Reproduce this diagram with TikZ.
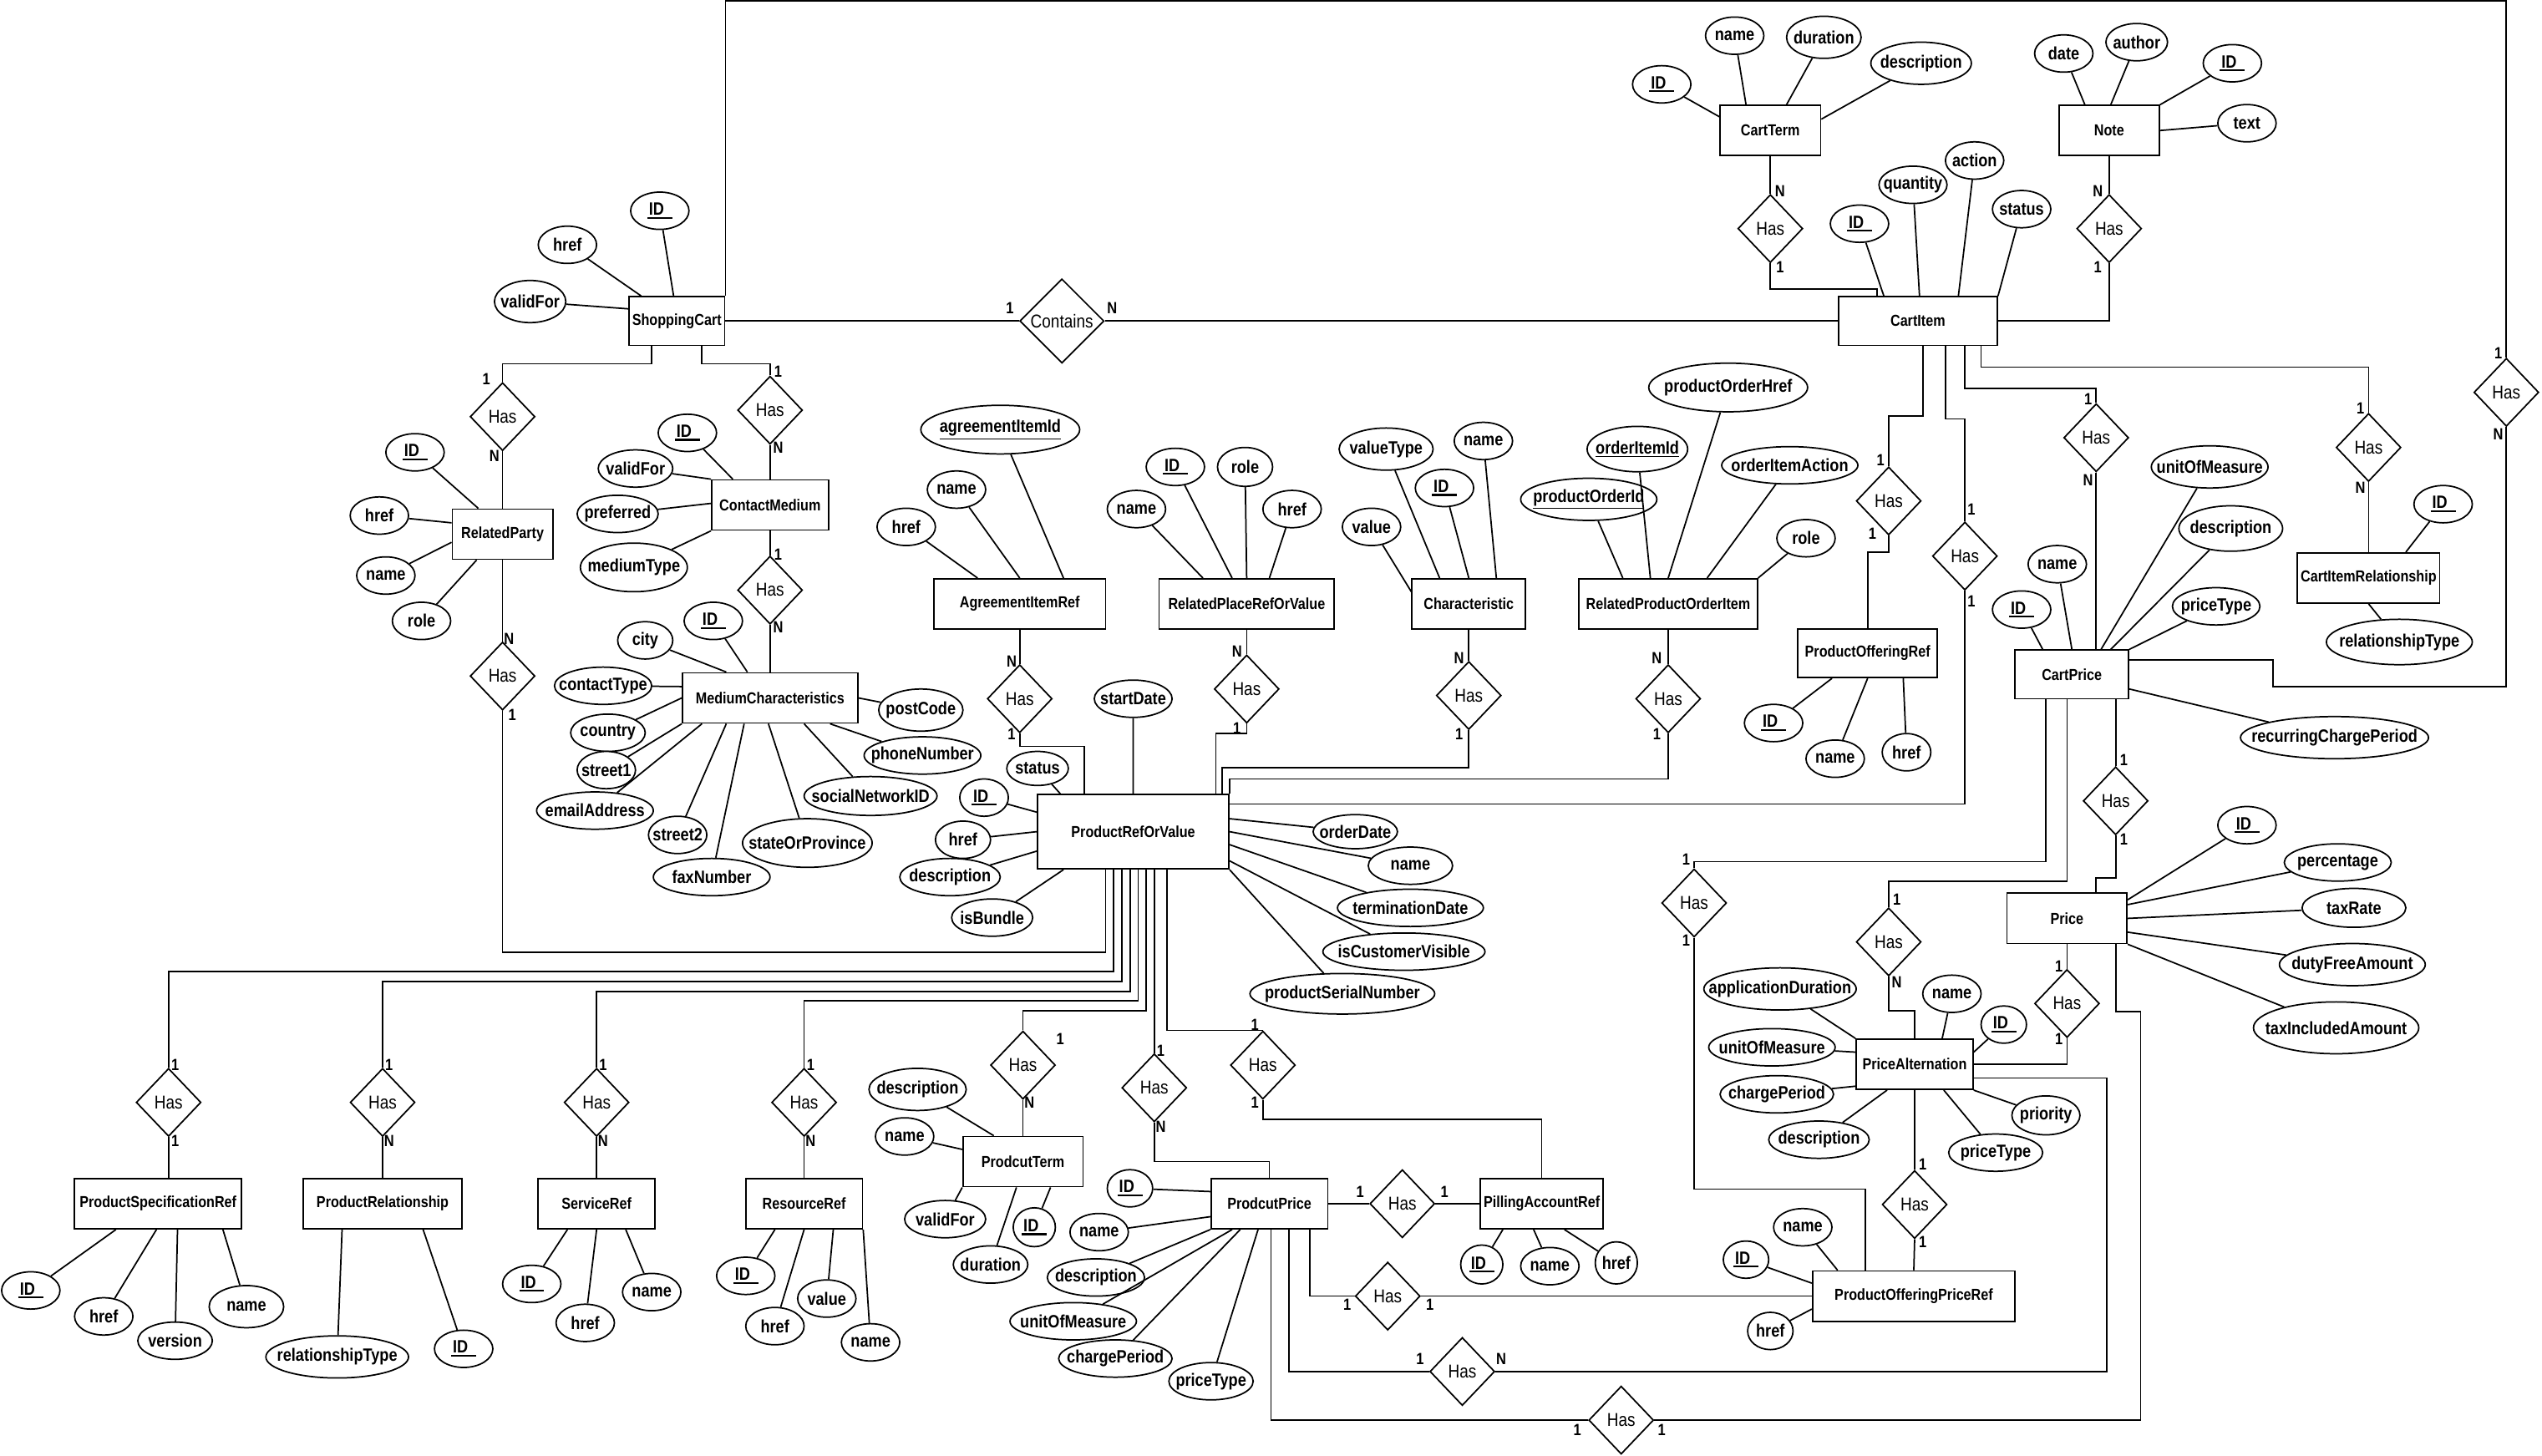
\documentclass[tikz,border=0pt]{standalone}
\usepackage{fontspec}
\setmainfont{Liberation Sans}[FakeStretch=0.85]
\usetikzlibrary{shapes.geometric}
\newcommand{\pkey}[1]{\vtop{\hbox{\hspace{1pt}#1\hspace{5pt}}\kern1pt\hrule height 1.1pt}}
\tikzset{
  entity/.style={
    rectangle, draw, fill=white, line width=0.9pt,
    minimum width=#1, minimum height=31, inner xsep=2pt,
    font=\fontsize{9.8}{11}\selectfont\bfseries
  },
  entity/.default=72,
  attr/.style={
    ellipse, draw, fill=white, line width=0.9pt,
    minimum width=#1, minimum height=23, inner sep=0pt,
    font=\fontsize{11}{13}\selectfont\bfseries,
    execute at begin node={\hbox to 0pt\bgroup\hss},
    execute at end node={\hss\egroup}
  },
  attr/.default=36,
  rel/.style={
    diamond, aspect=1, draw, fill=white, line width=0.9pt,
    minimum width=40, minimum height=42, inner sep=0pt,
    font=\fontsize{11.5}{13}\selectfont
  },
  card/.style={font=\fontsize{10}{12}\selectfont\bfseries, inner sep=0pt},
}

\begin{document}
\begin{tikzpicture}[x=1pt, y=1pt, line width=0.9pt]
  \useasboundingbox (0,0) rectangle (1568,-898);

  % entities
  \node[entity=59, minimum height=30] (sc) at (417.5,-198) {ShoppingCart};
  \node[entity=98, minimum height=30] (ci) at (1183,-198) {CartItem};
  \node[entity=62] (ct) at (1092,-80.5) {CartTerm};
  \node[entity=62] (note) at (1301,-80.5) {Note};
  \node[entity=62] (rp) at (310,-329.5) {RelatedParty};
  \node[entity=72] (cm) at (475,-311.5) {ContactMedium};
  \node[entity=108] (mc) at (475,-430.5) {MediumCharacteristics};
  \node[entity=106] (air) at (629,-372.5) {AgreementItemRef};
  \node[entity=108] (rpl) at (769,-372.5) {RelatedPlaceRefOrValue};
  \node[entity=70] (chr) at (906,-372.5) {Characteristic};
  \node[entity=110] (rpoi) at (1029,-372.5) {RelatedProductOrderItem};
  \node[entity=86, minimum height=30] (por) at (1152,-403) {ProductOfferingRef};
  \node[entity=70, minimum height=30] (cp) at (1278,-416) {CartPrice};
  \node[entity=87] (cir) at (1461,-356.5) {CartItemRelationship};
  \node[entity=74] (price) at (1275,-566.5) {Price};
  \node[entity=72] (pa) at (1181,-656.5) {PriceAlternation};
  \node[entity=125] (popr) at (1180.5,-799.5) {ProductOfferingPriceRef};
  \node[entity=118, minimum height=46] (prv) at (699,-513) {ProductRefOrValue};
  \node[entity=103] (psr) at (97.5,-742.5) {ProductSpecificationRef};
  \node[entity=98] (prel) at (236,-742.5) {ProductRelationship};
  \node[entity=72] (sref) at (368,-742.5) {ServiceRef};
  \node[entity=72] (rref) at (496,-742.5) {ResourceRef};
  \node[entity=74] (pterm) at (631,-716.5) {ProdcutTerm};
  \node[entity=72] (pprice) at (783,-742.5) {ProdcutPrice};
  \node[entity=76] (pacc) at (951,-742.5) {PillingAccountRef};

  % relationships
  \node[rel, minimum width=52, minimum height=52] (contains) at (655,-198) {Contains};
  \node[rel] (hrp1) at (310,-257) {Has};
  \node[rel] (hcm) at (475,-253) {Has};
  \node[rel] (hmc) at (475,-364) {Has};
  \node[rel] (hrp2) at (310,-417) {Has};
  \node[rel] (hct) at (1092,-141) {Has};
  \node[rel] (hnote) at (1301,-141) {Has};
  \node[rel] (hpor) at (1165,-309) {Has};
  \node[rel] (hci2) at (1212,-343) {Has};
  \node[rel] (hcp) at (1293,-270) {Has};
  \node[rel] (hcir) at (1461,-276) {Has};
  \node[rel] (hsc) at (1546,-242) {Has};
  \node[rel] (hair) at (629,-431) {Has};
  \node[rel] (hrpl) at (769,-425) {Has};
  \node[rel] (hchr) at (906,-429) {Has};
  \node[rel] (hrpoi) at (1029,-431) {Has};
  \node[rel] (hprice) at (1305,-494) {Has};
  \node[rel] (hpa1) at (1165,-581) {Has};
  \node[rel] (hpopr1) at (1045,-557) {Has};
  \node[rel] (hpa2) at (1275,-619) {Has};
  \node[rel] (hpopr2) at (1181,-743) {Has};
  \node[rel] (hpsr) at (104,-680) {Has};
  \node[rel] (hprel) at (236,-680) {Has};
  \node[rel] (hsref) at (368,-680) {Has};
  \node[rel] (hrref) at (496,-680) {Has};
  \node[rel] (hpterm) at (631,-657) {Has};
  \node[rel] (hpprice) at (712,-671) {Has};
  \node[rel] (hpacc) at (779,-657) {Has};
  \node[rel] (hpacc2) at (865,-742.5) {Has};
  \node[rel] (hpp1) at (856,-799.5) {Has};
  \node[rel] (hpp2) at (902,-846) {Has};
  \node[rel] (hpp3) at (1000,-876) {Has};

  % connectors between entities and relationships
  \draw (sc.east) -- (contains.west) (contains.east) -- (ci.west);
  \draw ([xshift=-15.5]sc.south) -- ++(0,-11) -| (hrp1.north);
  \draw ([xshift=15.5]sc.south) -- ++(0,-11) -| (hcm.north);
  \draw (sc.north east) -- ++(0,182) -| (hsc.north);
  \draw (hsc.south) -- ++(0,-160) -- ++(-144,0) |- ([yshift=9]cp.east);
  \draw (hrp1.south) -- (rp.north) (rp.south) -- (hrp2.north);
  \draw (hcm.south) -- (cm.north) (cm.south) -- (hmc.north) (hmc.south) -- (mc.north);
  \draw (ct.south) -- (hct.north) (hct.south) -- ++(0,-16) -| ([xshift=-25]ci.north);
  \draw (note.south) -- (hnote.north) (hnote.south) |- (ci.east);
  \draw ([xshift=3]ci.south) -- ++(0,-43) -| (hpor.north);
  \draw (hpor.south) -- ++(0,-10) -| (por.north);
  \draw ([xshift=17]ci.south) -- ++(0,-45) -| (hci2.north);
  \draw (hci2.south) |- ([yshift=17]prv.east);
  \draw ([xshift=29]ci.south) -- ++(0,-26) -| (hcp.north);
  \draw (hcp.south) -- ([xshift=15]cp.north);
  \draw ([xshift=39]ci.south) -- ++(0,-13) -| (hcir.north);
  \draw (hcir.south) -- (cir.north);
  \draw (air.south) -- (hair.north) (hair.south) -- ++(0,-8) -| ([xshift=-30]prv.north);
  \draw (rpl.south) -- (hrpl.north) (hrpl.south) -- ++(0,-6) -| ([xshift=51]prv.north);
  \draw (chr.south) -- (hchr.north) (hchr.south) -- ++(0,-23) -| ([xshift=55]prv.north);
  \draw (rpoi.south) -- (hrpoi.north) (hrpoi.south) -- ++(0,-28) -| (prv.north east);
  \draw ([xshift=-17]prv.south) -- ++(0,-51) -| (hrp2.south);
  \draw ([xshift=-12]prv.south) -- ++(0,-63) -| (hpsr.north);
  \draw ([xshift=-7]prv.south) -- ++(0,-69) -| (hprel.north);
  \draw ([xshift=-2]prv.south) -- ++(0,-75) -| (hsref.north);
  \draw ([xshift=3]prv.south) -- ++(0,-81) -| (hrref.north);
  \draw ([xshift=8]prv.south) -- ++(0,-87) -| (hpterm.north);
  \draw ([xshift=13]prv.south) -- (hpprice.north);
  \draw ([xshift=21]prv.south) |- (hpacc.north);
  \draw (hpsr.south) -- (hpsr.south |- psr.north);
  \draw (hprel.south) -- (prel.north) (hsref.south) -- (sref.north);
  \draw (hrref.south) -- (rref.north) (hpterm.south) -- (pterm.north);
  \draw (hpprice.south) -- ++(0,-24) -| (pprice.north);
  \draw (hpacc.south) -- ++(0,-12) -| (pacc.north);
  \draw (pprice.east) -- (hpacc2.west) (hpacc2.east) -- (pacc.west);
  \draw ([xshift=1]pprice.south) |- (hpp3.west);
  \draw ([xshift=12]pprice.south) |- (hpp2.west);
  \draw ([xshift=25]pprice.south) |- (hpp1.west);
  \draw (hpp1.east) -- (popr.west);
  \draw (hpp2.east) -- ++(377,0) |- ([yshift=-8.5]pa.east);
  \draw (hpp3.east) -- ++(300,0) -- ++(0,252) -| ([xshift=30]price.south);
  \draw ([xshift=27]cp.south) -- (hprice.north);
  \draw (hprice.south) -- ++(0,-26) -| ([xshift=18]price.north);
  \draw ([xshift=-3]cp.south) -- ++(0,-112) -| (hpa1.north);
  \draw ([xshift=-16]cp.south) -- ++(0,-100) -| (hpopr1.north);
  \draw (hpa1.south) -- ++(0,-21) -| (pa.north);
  \draw (hpopr1.south) -- ++(0,-155) -| ([xshift=-30]popr.north);
  \draw (price.south) -- (hpa2.north) (hpa2.south) |- (pa.east);
  \draw (pa.south) -- (hpopr2.north) (hpopr2.south) -- (popr.north);

  % cardinalities
  \node[card] (k1) at (623,-190) {1};   \node[card] (k2) at (686,-190) {N};
  \node[card] (k3) at (300,-234) {1};   \node[card] (k4) at (305,-281) {N};
  \node[card] (k5) at (480,-229) {1};   \node[card] (k6) at (480,-276) {N};
  \node[card] (k7) at (480,-342) {1};   \node[card] (k8) at (480,-387) {N};
  \node[card] (k9) at (314,-394) {N};   \node[card] (k10) at (316,-441) {1};
  \node[card] (k11) at (1098,-118) {N}; \node[card] (k12) at (1098,-165) {1};
  \node[card] (k13) at (1294,-118) {N}; \node[card] (k14) at (1294,-165) {1};
  \node[card] (k15) at (1160,-284) {1}; \node[card] (k16) at (1155,-329) {1};
  \node[card] (k17) at (1216,-314) {1}; \node[card] (k18) at (1216,-371) {1};
  \node[card] (k19) at (1288,-246) {1}; \node[card] (k20) at (1288,-296) {N};
  \node[card] (k21) at (1456,-252) {1}; \node[card] (k22) at (1456,-301) {N};
  \node[card] (k23) at (1541,-218) {1}; \node[card] (k24) at (1541,-268) {N};
  \node[card] (k25) at (624,-408) {N};  \node[card] (k26) at (624,-453) {1};
  \node[card] (k27) at (763,-402) {N};  \node[card] (k28) at (763,-449) {1};
  \node[card] (k29) at (900,-406) {N};  \node[card] (k30) at (900,-453) {1};
  \node[card] (k31) at (1022,-406) {N}; \node[card] (k32) at (1022,-453) {1};
  \node[card] (k33) at (1310,-469) {1}; \node[card] (k34) at (1310,-518) {1};
  \node[card] (k35) at (1170,-555) {1}; \node[card] (k36) at (1170,-606) {N};
  \node[card] (k37) at (1040,-530) {1}; \node[card] (k38) at (1040,-580) {1};
  \node[card] (k39) at (1270,-596) {1}; \node[card] (k40) at (1270,-641) {1};
  \node[card] (k41) at (1186,-718) {1}; \node[card] (k42) at (1186,-766) {1};
  \node[card] (k43) at (108,-657) {1};  \node[card] (k44) at (108,-704) {1};
  \node[card] (k45) at (240,-657) {1};  \node[card] (k46) at (240,-704) {N};
  \node[card] (k47) at (372,-657) {1};  \node[card] (k48) at (372,-704) {N};
  \node[card] (k49) at (500,-657) {1};  \node[card] (k50) at (500,-704) {N};
  \node[card] (k51) at (654,-641) {1};  \node[card] (k52) at (635,-680) {N};
  \node[card] (k53) at (716,-648) {1};  \node[card] (k54) at (716,-695) {N};
  \node[card] (k55) at (774,-632) {1};  \node[card] (k56) at (774,-680) {1};
  \node[card] (k57) at (839,-735) {1};  \node[card] (k58) at (891,-735) {1};
  \node[card] (k59) at (831,-805) {1};  \node[card] (k60) at (882,-805) {1};
  \node[card] (k61) at (876,-838) {1};  \node[card] (k62) at (926,-838) {N};
  \node[card] (k63) at (973,-882) {1};  \node[card] (k64) at (1025,-882) {1};

  % ShoppingCart attributes
  \node[attr] (scid) at (407,-130) {\pkey{ID}};
  \node[attr] (schref) at (350,-151) {href};
  \node[attr=44, minimum height=26] (scvf) at (327,-186) {validFor};
  \draw (scid) -- ([xshift=-2]sc.north) (schref) -- ([xshift=-22]sc.north)
        (scvf) -- ([yshift=7.5]sc.west);

  % CartItem attributes
  \node[attr] (ciid) at (1147,-138) {\pkey{ID}};
  \node[attr=42] (ciqty) at (1180,-114) {quantity};
  \node[attr] (ciact) at (1218,-99) {action};
  \node[attr] (cist) at (1247,-129) {status};
  \draw (ciid) -- ([xshift=-21]ci.north) (ciqty) -- ([xshift=1]ci.north)
        (ciact) -- ([xshift=25]ci.north) (cist) -- (ci.north east);

  % CartTerm attributes
  \node[attr] (ctid) at (1025,-52) {\pkey{ID}};
  \node[attr] (ctname) at (1070,-22) {name};
  \node[attr=46, minimum height=26] (ctdur) at (1125,-23) {duration};
  \node[attr=62, minimum height=26] (ctdesc) at (1185,-39) {description};
  \draw (ctid) -- ([yshift=8.5]ct.west) (ctname) -- ([xshift=-15]ct.north)
        (ctdur) -- ([xshift=10]ct.north) (ctdesc) -- ([yshift=7]ct.east);

  % Note attributes
  \node[attr] (ndate) at (1273,-33) {date};
  \node[attr=38] (nauth) at (1318,-26) {author};
  \node[attr] (nid) at (1377,-39) {\pkey{ID}};
  \node[attr] (ntext) at (1386,-76) {text};
  \draw (ndate) -- ([xshift=-15]note.north) (nauth) -- ([xshift=1]note.north)
        (nid) -- (note.north east) (ntext) -- (note.east);

  % RelatedParty attributes
  \node[attr] (rpid) at (256,-279) {\pkey{ID}};
  \node[attr] (rphref) at (234,-318) {href};
  \node[attr] (rpname) at (238,-355) {name};
  \node[attr] (rprole) at (260,-383) {role};
  \draw (rpid) -- ([xshift=-15]rp.north) (rphref) -- ([yshift=7]rp.west)
        (rpname) -- ([yshift=-5]rp.west) (rprole) -- ([xshift=-16]rp.south);

  % ContactMedium attributes
  \node[attr] (cmid) at (424,-267) {\pkey{ID}};
  \node[attr=46] (cmvf) at (392,-289) {validFor};
  \node[attr=50] (cmpref) at (381,-317) {preferred};
  \node[attr=66, minimum height=30] (cmmt) at (391,-350) {mediumType};
  \draw (cmid) -- ([xshift=-23]cm.north) (cmvf) -- (cm.north west)
        (cmpref) -- ([yshift=1]cm.west) (cmmt) -- (cm.south west);

  % MediumCharacteristics attributes
  \node[attr=34] (mccity) at (398,-395) {city};
  \node[attr] (mcid) at (440,-383) {\pkey{ID}};
  \node[attr=60] (mcct) at (372,-423) {contactType};
  \node[attr=46] (mccountry) at (375,-452) {country};
  \node[attr] (mcst1) at (374,-475) {street1};
  \node[attr=72] (mcemail) at (367,-500) {emailAddress};
  \node[attr] (mcst2) at (418,-515) {street2};
  \node[attr=72] (mcfax) at (439,-541) {faxNumber};
  \node[attr=80, minimum height=30] (mcsop) at (498,-520) {stateOrProvince};
  \node[attr=82, minimum height=24] (mcsn) at (537,-491) {socialNetworkID};
  \node[attr=72] (mcphone) at (569,-466) {phoneNumber};
  \node[attr=52, minimum height=26] (mcpost) at (568,-438) {postCode};
  \draw (mccity) -- ([xshift=-27]mc.north) (mcid) -- ([xshift=-14]mc.north)
        (mcct) -- ([yshift=7]mc.west) (mccountry) -- (mc.west)
        (mcst1) -- (mc.south west) (mcemail) -- ([xshift=-42]mc.south)
        (mcst2) -- ([xshift=-27]mc.south) (mcfax) -- ([xshift=-16]mc.south)
        (mcsop) -- ([xshift=-1]mc.south) (mcsn) -- ([xshift=21]mc.south)
        (mcphone) -- ([xshift=37]mc.south) (mcpost) -- (mc.east);

  % AgreementItemRef attributes
  \node[attr=98, minimum height=30] (airid) at (617,-265) {\underline{agreementItemId}};
  \node[attr] (airname) at (590,-302) {name};
  \node[attr] (airhref) at (559,-325) {href};
  \draw (airid) -- ([xshift=27]air.north) (airname) -- (air.north)
        (airhref) -- ([xshift=-26]air.north);

  % RelatedPlaceRefOrValue attributes
  \node[attr] (rplid) at (725,-288) {\pkey{ID}};
  \node[attr=34, minimum height=24] (rplrole) at (768,-288) {role};
  \node[attr] (rplname) at (701,-314) {name};
  \node[attr] (rplhref) at (797,-314) {href};
  \draw (rplname) -- ([xshift=-27]rpl.north) (rplid) -- ([xshift=-9]rpl.north)
        (rplrole) -- (rpl.north) (rplhref) -- ([xshift=14]rpl.north);

  % Characteristic attributes
  \node[attr=58, minimum height=26] (chrvt) at (855,-277) {valueType};
  \node[attr] (chrname) at (915,-272) {name};
  \node[attr] (chrid) at (891,-301) {\pkey{ID}};
  \node[attr] (chrval) at (846,-325) {value};
  \draw (chrvt) -- ([xshift=-18]chr.north) (chrname) -- ([xshift=17]chr.north)
        (chrid) -- (chr.north) (chrval) -- ([yshift=7.5]chr.west);

  % RelatedProductOrderItem attributes
  \node[attr=98, minimum height=30] (rpoihref) at (1066,-239) {productOrderHref};
  \node[attr=62, minimum height=28] (rpoioiid) at (1010,-277) {\underline{orderItemId}};
  \node[attr=84] (rpoiact) at (1104,-287) {orderItemAction};
  \node[attr=84, minimum height=26] (rpoiporid) at (980,-308) {\underline{productOrderId}};
  \node[attr] (rpoirole) at (1114,-332) {role};
  \draw (rpoiporid) -- ([xshift=-28]rpoi.north) (rpoioiid) -- ([xshift=-11]rpoi.north)
        (rpoihref) -- (rpoi.north) (rpoiact) -- ([xshift=24]rpoi.north)
        (rpoirole) -- (rpoi.north east);

  % ProductOfferingRef attributes
  \node[attr] (porid) at (1094,-446) {\pkey{ID}};
  \node[attr] (porname) at (1132,-468) {name};
  \node[attr=30] (porhref) at (1176,-464) {href};
  \draw (porid) -- ([xshift=-22]por.south) (porname) -- (por.south)
        (porhref) -- ([xshift=22]por.south);

  % CartPrice attributes
  \node[attr] (cpid) at (1247,-376) {\pkey{ID}};
  \node[attr] (cpname) at (1269,-348) {name};
  \node[attr=72, minimum height=26] (cpuom) at (1363,-288) {unitOfMeasure};
  \node[attr=64, minimum height=28] (cpdesc) at (1376,-326) {description};
  \node[attr=54] (cppt) at (1367,-374) {priceType};
  \node[attr=116, minimum height=26] (cprcp) at (1440,-455) {recurringChargePeriod};
  \draw (cpid) -- ([xshift=-18]cp.north) (cpname) -- (cp.north)
        (cpuom) -- ([xshift=18]cp.north) (cpdesc) -- ([xshift=24]cp.north)
        (cppt) -- (cp.north east) (cprcp) -- ([yshift=-9]cp.east);

  % CartItemRelationship attributes
  \node[attr] (cirid) at (1507,-311) {\pkey{ID}};
  \node[attr=90, minimum height=28] (cirrt) at (1480,-396) {relationshipType};
  \draw (cirid) -- ([xshift=23]cir.north) (cirrt) -- (cir.south);

  % Price attributes
  \node[attr] (prid) at (1386,-509) {\pkey{ID}};
  \node[attr=66] (prpct) at (1442,-532) {percentage};
  \node[attr=64, minimum height=24] (prtax) at (1452,-560) {taxRate};
  \node[attr=90, minimum height=26] (prdfa) at (1451,-595) {dutyFreeAmount};
  \node[attr=102, minimum height=32] (prtia) at (1441,-634) {taxIncludedAmount};
  \draw (prid) -- ([yshift=11.5]price.east) (prpct) -- ([yshift=8.5]price.east)
        (prtax) -- (price.east) (prdfa) -- ([yshift=-8.5]price.east)
        (prtia) -- (price.south east);

  % PriceAlternation attributes
  \node[attr=94, minimum height=26] (paad) at (1098,-610) {applicationDuration};
  \node[attr] (paname) at (1204,-613) {name};
  \node[attr=28] (paid) at (1236,-632) {\pkey{ID}};
  \node[attr=78] (pauom) at (1093,-646) {unitOfMeasure};
  \node[attr=70] (pacp) at (1096,-675) {chargePeriod};
  \node[attr=62] (padesc) at (1122,-703) {description};
  \node[attr=42, minimum height=24] (paprio) at (1262,-688) {priority};
  \node[attr=58] (papt) at (1231,-711) {priceType};
  \draw (paad) -- (pa.north west) (paname) -- ([xshift=17]pa.north)
        (paid) -- ([yshift=7.5]pa.east) (pauom) -- ([yshift=7.5]pa.west)
        (pacp) -- ([yshift=-13.5]pa.west) (padesc) -- ([xshift=-17]pa.south)
        (paprio) -- (pa.south east) (papt) -- ([xshift=18]pa.south);

  % ProductOfferingPriceRef attributes
  \node[attr] (popname) at (1112,-757) {name};
  \node[attr=28] (popid) at (1077,-777) {\pkey{ID}};
  \node[attr=28] (pophref) at (1092,-821) {href};
  \draw (popname) -- ([xshift=-47]popr.north) (popid) -- ([yshift=8]popr.west)
        (pophref) -- ([yshift=-8]popr.west);

  % ProductRefOrValue attributes
  \node[attr=38, minimum height=21] (prvstatus) at (640,-474) {status};
  \node[attr=48] (prvsd) at (699,-431) {startDate};
  \node[attr=30] (prvid) at (607,-492) {\pkey{ID}};
  \node[attr=34] (prvhref) at (594,-518) {href};
  \node[attr=62] (prvdesc) at (586,-541) {description};
  \node[attr=50] (prvbundle) at (612,-566) {isBundle};
  \node[attr=52, minimum height=21] (prvod) at (836,-513) {orderDate};
  \node[attr=52] (prvname) at (870,-534) {name};
  \node[attr=90] (prvtd) at (870,-560) {terminationDate};
  \node[attr=100] (prvicv) at (866,-587) {isCustomerVisible};
  \node[attr=114, minimum height=25] (prvpsn) at (828,-613) {productSerialNumber};
  \draw (prvstatus) -- ([xshift=-45]prv.north) (prvsd) -- (prv.north)
        (prvid) -- ([yshift=12]prv.west) (prvhref) -- (prv.west)
        (prvdesc) -- ([yshift=-12]prv.west) (prvbundle) -- ([xshift=-43]prv.south)
        (prvod) -- ([yshift=8]prv.east) (prvname) -- (prv.east)
        (prvtd) -- ([yshift=-8]prv.east) (prvicv) -- ([yshift=-18]prv.east)
        (prvpsn) -- (prv.south east);

  % ProductSpecificationRef attributes
  \node[attr] (psrid) at (19,-796) {\pkey{ID}};
  \node[attr] (psrhref) at (64,-812) {href};
  \node[attr=46] (psrver) at (108,-827) {version};
  \node[attr=46, minimum height=26] (psrname) at (152,-806) {name};
  \draw (psrid) -- ([xshift=-26]psr.south) (psrhref) -- ([xshift=-1]psr.south)
        (psrver) -- ([xshift=12]psr.south) (psrname) -- ([xshift=40]psr.south);

  % ProductRelationship attributes
  \node[attr=88, minimum height=26] (prelrt) at (208,-837) {relationshipType};
  \node[attr] (prelid) at (286,-832) {\pkey{ID}};
  \draw (prelrt) -- ([xshift=-25]prel.south) (prelid) -- ([xshift=25]prel.south);

  % ServiceRef attributes
  \node[attr] (srefid) at (328,-792) {\pkey{ID}};
  \node[attr] (srefhref) at (361,-816) {href};
  \node[attr] (srefname) at (402,-797) {name};
  \draw (srefid) -- ([xshift=-18]sref.south) (srefhref) -- (sref.south)
        (srefname) -- ([xshift=18]sref.south);

  % ResourceRef attributes
  \node[attr] (rrefid) at (460,-787) {\pkey{ID}};
  \node[attr] (rrefhref) at (478,-818) {href};
  \node[attr] (rrefval) at (510,-801) {value};
  \node[attr] (rrefname) at (537,-828) {name};
  \draw (rrefid) -- ([xshift=-18]rref.south) (rrefhref) -- (rref.south)
        (rrefval) -- ([xshift=18]rref.south) (rrefname) -- (rref.south east);

  % ProdcutTerm attributes
  \node[attr=60, minimum height=26] (ptdesc) at (566,-672) {description};
  \node[attr] (ptname) at (558,-701) {name};
  \node[attr=50] (ptvf) at (583,-752) {validFor};
  \node[attr=26, minimum height=24] (ptid) at (638,-757) {\pkey{ID}};
  \node[attr=46] (ptdur) at (611,-780) {duration};
  \draw (ptdesc) -- ([xshift=-18]pterm.north) (ptname) -- ([yshift=7.5]pterm.west)
        (ptvf) -- (pterm.south west) (ptdur) -- ([xshift=-4]pterm.south)
        (ptid) -- ([xshift=17]pterm.south);

  % ProdcutPrice attributes
  \node[attr=28] (ppid) at (697,-733) {\pkey{ID}};
  \node[attr] (ppname) at (678,-760) {name};
  \node[attr=60] (ppdesc) at (676,-788) {description};
  \node[attr=78] (ppuom) at (662,-815) {unitOfMeasure};
  \node[attr=70] (ppcp) at (688,-838) {chargePeriod};
  \node[attr=52] (pppt) at (747,-852) {priceType};
  \draw (ppid) -- ([yshift=7.5]pprice.west) (ppname) -- ([yshift=-8]pprice.west)
        (ppdesc) -- (pprice.south west) (ppuom) -- ([xshift=-23]pprice.south)
        (ppcp) -- ([xshift=-18]pprice.south) (pppt) -- ([xshift=-7]pprice.south);

  % PillingAccountRef attributes
  \node[attr=26, minimum height=24] (paccid) at (914,-780) {\pkey{ID}};
  \node[attr] (paccname) at (956,-781) {name};
  \node[attr=26, minimum height=26] (pacchref) at (997,-779) {href};
  \draw (paccid) -- ([xshift=-24]pacc.south) (paccname) -- ([xshift=-5]pacc.south)
        (pacchref) -- ([xshift=14]pacc.south);
\end{tikzpicture}
\end{document}
